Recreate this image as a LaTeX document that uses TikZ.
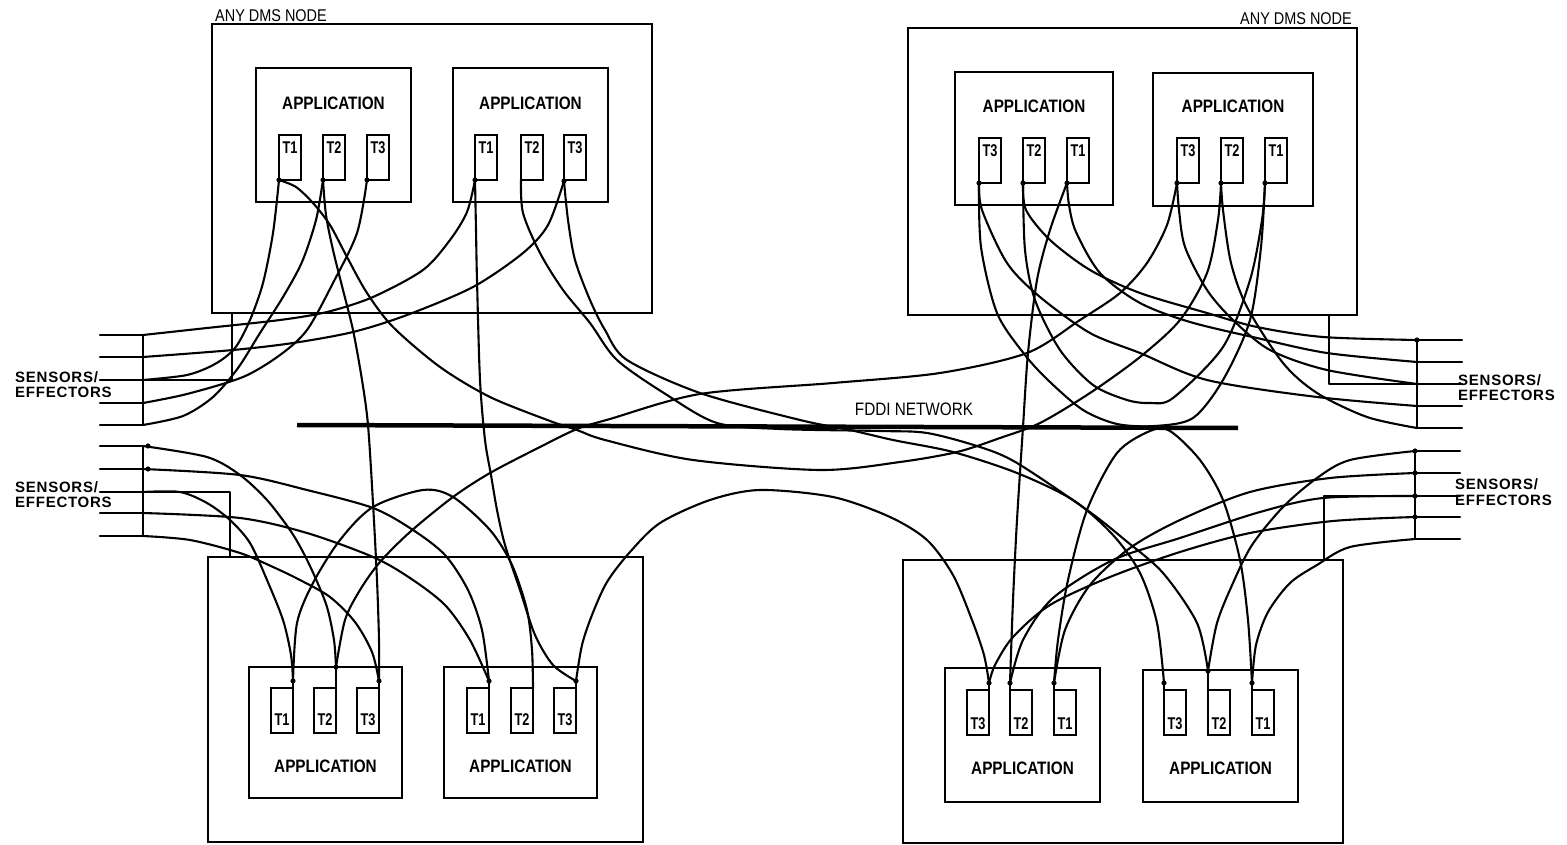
\documentclass[tikz,border=0pt]{standalone}
\usepackage{fontspec}
\setmainfont{Liberation Sans}
\newfontfamily\condfont{Liberation Sans}[FakeStretch=0.85]
\newfontfamily\tcondfont{Liberation Sans}[FakeStretch=0.75]
\newfontfamily\sensfont{Liberation Sans}[LetterSpace=5]
\newcommand\mytbox[4]{\draw[tline] (#1,#2) rectangle ++(22,45); \node[tlab] at ({#1+11},#4) {#3};}
\begin{document}
\begin{tikzpicture}[x=1pt,y=-1pt,
  box/.style={line width=2.4pt},
  tline/.style={line width=2.1pt},
  wire/.style={line width=2.1pt, line join=round, line cap=round},
  applab/.style={font=\condfont\bfseries\fontsize{18}{18}\selectfont, inner sep=0pt},
  tlab/.style={font=\tcondfont\bfseries\fontsize{17}{17}\selectfont, inner sep=0pt},
  nodelab/.style={font=\condfont\fontsize{17}{17}\selectfont, inner sep=0pt},
  senslab/.style={font=\sensfont\bfseries\fontsize{15}{15}\selectfont, inner sep=0pt, anchor=base west}]
\useasboundingbox (0,0) rectangle (1567,845);
\fill[white] (0,0) rectangle (1567,845);

% ---------- outer node boxes ----------
\draw[box] (212,24) rectangle (652,313);
\draw[box] (908,28) rectangle (1357,315);
\draw[box] (208,557) rectangle (643,842);
\draw[box] (903,560) rectangle (1343,843);
\node[nodelab, anchor=base west] (lblTL) at (215,22) {ANY DMS NODE};
\node[nodelab, anchor=base east] (lblTR) at (1352,25) {ANY DMS NODE};

% ---------- application boxes ----------
\draw[box] (256,68) rectangle (411,202);
\draw[box] (453,68) rectangle (608,202);
\draw[box] (955,72) rectangle (1113,205);
\draw[box] (1153,73) rectangle (1313,206);
\draw[box] (249,667) rectangle (402,798);
\draw[box] (444,667) rectangle (597,798);
\draw[box] (945,668) rectangle (1100,802);
\draw[box] (1143,670) rectangle (1298,802);
\node[applab] (atl1) at (333.5,103) {APPLICATION};
\node[applab] (atl2) at (530.5,103) {APPLICATION};
\node[applab] (atr1) at (1034,106) {APPLICATION};
\node[applab] (atr2) at (1233,106) {APPLICATION};
\node[applab] (abl1) at (325.5,766) {APPLICATION};
\node[applab] (abl2) at (520.5,766) {APPLICATION};
\node[applab] (abr1) at (1022.5,768) {APPLICATION};
\node[applab] (abr2) at (1220.5,768) {APPLICATION};

% ---------- task boxes ----------
\mytbox{279}{135}{T1}{148} \mytbox{323}{135}{T2}{148} \mytbox{367}{135}{T3}{148}
\mytbox{475}{135}{T1}{148} \mytbox{521}{135}{T2}{148} \mytbox{564}{135}{T3}{148}
\mytbox{979}{138}{T3}{151} \mytbox{1023}{138}{T2}{151} \mytbox{1067}{138}{T1}{151}
\mytbox{1177}{138}{T3}{151} \mytbox{1221}{138}{T2}{151} \mytbox{1265}{138}{T1}{151}
\mytbox{271}{688}{T1}{720} \mytbox{314}{688}{T2}{720} \mytbox{357}{688}{T3}{720}
\mytbox{467}{688}{T1}{720} \mytbox{511}{688}{T2}{720} \mytbox{554}{688}{T3}{720}
\mytbox{967}{690}{T3}{724} \mytbox{1010}{690}{T2}{724} \mytbox{1054}{690}{T1}{724}
\mytbox{1164}{690}{T3}{724} \mytbox{1208}{690}{T2}{724} \mytbox{1252}{690}{T1}{724}

% ---------- terminals ----------
\coordinate (tl1a) at (279,180); \coordinate (tl1b) at (323,180); \coordinate (tl1c) at (367,180);
\coordinate (tl2a) at (475,180); \coordinate (tl2b) at (521,180); \coordinate (tl2c) at (564,181);
\coordinate (tr1c) at (979,183); \coordinate (tr1b) at (1023,183); \coordinate (tr1a) at (1067,183);
\coordinate (tr2c) at (1177,183); \coordinate (tr2b) at (1221,183); \coordinate (tr2a) at (1265,183);
\coordinate (bl1a) at (293,681); \coordinate (bl1b) at (336,667); \coordinate (bl1c) at (379,681);
\coordinate (bl2a) at (489,681); \coordinate (bl2b) at (533,688); \coordinate (bl2c) at (576,681);
\coordinate (br1c) at (989,683); \coordinate (br1b) at (1010,683); \coordinate (br1a) at (1054,683);
\coordinate (br2c) at (1164,683); \coordinate (br2b) at (1208,671); \coordinate (br2a) at (1252,683);
% pins into task boxes
\draw[wire] (bl1a) -- (293,688); \draw[wire] (bl1b) -- (336,688); \draw[wire] (bl1c) -- (379,688);
\draw[wire] (bl2a) -- (489,688); \draw[wire] (bl2c) -- (576,688);
\draw[wire] (br1c) -- (989,690); \draw[wire] (br1b) -- (1010,690); \draw[wire] (br1a) -- (1054,690);
\draw[wire] (br2c) -- (1164,690); \draw[wire] (br2b) -- (1208,690); \draw[wire] (br2a) -- (1252,690);

% ---------- sensors / effectors ----------
\coordinate (lt1) at (143,335); \coordinate (lt2) at (143,357); \coordinate (lt3) at (143,380);
\coordinate (lt4) at (143,403); \coordinate (lt5) at (143,425);
\coordinate (lb1) at (143,446); \coordinate (lb2) at (143,469); \coordinate (lb3) at (143,492);
\coordinate (lb4) at (143,513); \coordinate (lb5) at (143,536);
\coordinate (rt1) at (1417,340); \coordinate (rt2) at (1417,362); \coordinate (rt3) at (1417,384);
\coordinate (rt4) at (1417,406); \coordinate (rt5) at (1417,428);
\coordinate (rb1) at (1415,451); \coordinate (rb2) at (1415,473); \coordinate (rb3) at (1415,496);
\coordinate (rb4) at (1415,517); \coordinate (rb5) at (1415,539);

\draw[wire] (lt1) -- (lt5);
\draw[wire] (lb1) -- (lb5);
\draw[wire] (rt1) -- (rt5);
\draw[wire] (rb1) -- (rb5);
\foreach \c/\y in {lt1/335,lt2/357,lt3/380,lt4/403,lt5/425,lb1/446,lb2/469,lb3/492,lb4/513,lb5/536}
  \draw[wire] (100,\y) -- (\c);
\foreach \c/\y in {rt1/340,rt2/362,rt3/384,rt4/406,rt5/428}
  \draw[wire] (\c) -- (1462,\y);
\foreach \c/\y in {rb1/451,rb2/473,rb3/496,rb4/517,rb5/539}
  \draw[wire] (\c) -- (1460,\y);
% links from node boxes to sensor buses
\draw[wire] (lt3) -- (232,380) -- (232,313);
\draw[wire] (lb3) -- (230,492) -- (230,557);
\draw[wire] (rt3) -- (1329,384) -- (1329,315);
\draw[wire] (rb3) -- (1324,496) -- (1324,560);

\node[senslab] (s1a) at (15,382) {SENSORS/};
\node[senslab] (s1b) at (15,397) {EFFECTORS};
\node[senslab] (s2a) at (15,492) {SENSORS/};
\node[senslab] (s2b) at (15,507) {EFFECTORS};
\node[senslab] (s3a) at (1458,385) {SENSORS/};
\node[senslab] (s3b) at (1458,400) {EFFECTORS};
\node[senslab] (s4a) at (1455,489) {SENSORS/};
\node[senslab] (s4b) at (1455,505) {EFFECTORS};

% ---------- FDDI network ----------
\coordinate (fddiL) at (297,425); \coordinate (fddiR) at (1238,428);
\draw[line width=4.5pt] (fddiL) -- (fddiR);
\node[font=\condfont\fontsize{18}{18}\selectfont, inner sep=0pt] (fddi) at (914,409) {FDDI NETWORK};

% ---------- wires: top-left node ----------
\draw[wire] plot[smooth] coordinates {(lt1) (207,328) (280,320) (327,312) (373,297) (423,270) (450,240) (467,212) (tl2a)};
\draw[wire] plot[smooth] coordinates {(lt2) (233,350) (293,343) (353,332) (407,315) (473,287) (523,253) (548,225) (tl2c)};
\draw[wire] plot[smooth] coordinates {(lt3) (187,375) (215,364) (235,348) (250,320) (263,283) (273,233) (tl1a)};
\draw[wire] plot[smooth] coordinates {(lt4) (187,394) (243,377) (280,355) (307,330) (333,283) (357,233) (tl1c)};
\draw[wire] plot[smooth] coordinates {(lt5) (183,416) (213,397) (238,368) (260,333) (283,297) (302,262) (316,220) (tl1b)};
\draw[wire] plot[smooth] coordinates {(tl1a) (296,187) (313,203) (330,225) (347,257) (367,293) (393,327) (440,367) (490,397) (550,421) (577,430) (605,440) (693,460) (820,470) (900,462) (957,452) (1000,438) (1040,423) (1090,393) (1140,357) (1180,320) (1207,273) (1218,220) (tr2b)};
\draw[wire] plot[smooth] coordinates {(tl1b) (326,215) (333,250) (343,290) (353,330) (362,380) (368,425) (373,503) (377,580) (379,640) (bl1c)};
\draw[wire] plot[smooth] coordinates {(tl2a) (476,230) (477,280) (480,380) (485,440) (491,475) (497,510) (505,545) (520,590) (535,635) (553,665) (bl2c)};
\draw[wire] plot[smooth] coordinates {(tl2b) (523,213) (540,253) (563,290) (590,323) (617,360) (667,395) (717,423) (780,429) (880,431) (927,433) (980,447) (1017,463) (1087,510) (1125,540) (1163,573) (1197,623) (br2b)};
\draw[wire] plot[smooth] coordinates {(tl2c) (568,220) (575,260) (590,300) (605,330) (627,360) (700,393) (800,420) (850,430) (893,440) (953,452) (1017,473) (1073,500) (1113,535) (1140,573) (1157,623) (br2c)};

% ---------- wires: bottom-left node ----------
\draw[wire] plot[smooth] coordinates {(bl1b) (345,620) (360,590) (380,562) (410,532) (453,497) (490,473) (540,447) (577,429) (610,419) (700,394) (833,383) (940,373) (1027,353) (1080,320) (1120,293) (1147,263) (1167,225) (tr2c)};
\draw[wire] plot[smooth] coordinates {(bl1a) (297,623) (313,583) (340,540) (373,507) (423,490) (453,497) (490,530) (512,565) (527,610) (532,650) (bl2b)};
\draw[wire] plot[smooth] coordinates {(lb1) (207,457) (240,475) (267,500) (290,530) (303,552) (315,577) (327,607) (334,640) (bl1b)};
\draw[wire] plot[smooth] coordinates {(lb2) (240,475) (307,490) (373,508) (413,530) (445,555) (468,590) (482,630) (bl2a)};
\draw[wire] plot[smooth] coordinates {(lb3) (180,492) (207,503) (230,520) (250,543) (267,580) (283,620) (291,655) (bl1a)};
\draw[wire] plot[smooth] coordinates {(lb4) (240,518) (307,533) (373,557) (410,578) (445,605) (470,640) (bl2a)};
\draw[wire] plot[smooth] coordinates {(lb5) (190,540) (240,553) (273,567) (300,580) (330,597) (355,622) (372,652) (bl1c)};
\draw[wire] plot[smooth] coordinates {(bl2c) (582,645) (592,615) (607,582) (630,552) (660,523) (710,500) (760,490) (833,497) (890,517) (927,540) (953,575) (972,620) (984,655) (br1c)};

% ---------- wires: bottom-right node ----------
\draw[wire] plot[smooth] coordinates {(br1a) (1058,640) (1068,580) (1087,510) (1117,453) (1150,431) (1170,431) (1200,460) (1223,500) (1240,560) (1248,620) (br2a)};
\draw[wire] plot[smooth] coordinates {(rb1) (1350,460) (1317,478) (1283,507) (1252,545) (1233,583) (1217,623) (br2b)};
\draw[wire] plot[smooth] coordinates {(rb2) (1330,478) (1250,492) (1180,520) (1130,548) (1090,585) (1065,630) (br1a)};
\draw[wire] plot[smooth] coordinates {(rb3) (1323,498) (1260,512) (1180,538) (1113,560) (1053,598) (1023,640) (br1b)};
\draw[wire] plot[smooth] coordinates {(rb4) (1333,521) (1250,533) (1180,552) (1110,577) (1050,605) (1013,637) (995,665) (br1c)};
\draw[wire] plot[smooth] coordinates {(rb5) (1350,547) (1317,565) (1290,583) (1268,612) (1256,645) (br2a)};

% ---------- wires: top-right node ----------
\draw[wire] plot[smooth] coordinates {(tr1a) (1050,230) (1037,280) (1028,353) (1023,427) (1017,520) (1013,600) (br1b)};
\draw[wire] plot[smooth] coordinates {(tr1b) (1026,210) (1050,240) (1090,270) (1140,293) (1207,313) (1257,327) (1323,337) (rt1)};
\draw[wire] plot[smooth] coordinates {(tr1a) (1069,205) (1076,232) (1100,273) (1140,303) (1190,322) (1257,338) (1327,353) (rt2)};
\draw[wire] plot[smooth] coordinates {(tr2c) (1179,210) (1185,247) (1207,290) (1233,320) (1270,350) (1327,370) (rt3)};
\draw[wire] plot[smooth] coordinates {(tr1c) (982,210) (1007,263) (1040,297) (1090,333) (1140,353) (1207,380) (1317,397) (rt4)};
\draw[wire] plot[smooth] coordinates {(tr2b) (1223,210) (1231,263) (1247,307) (1283,363) (1317,393) (1367,417) (rt5)};
\draw[wire] plot[smooth] coordinates {(tr1c) (981,247) (997,313) (1025,355) (1050,382) (1083,410) (1117,424) (1155,426) (1193,418) (1223,380) (1250,320) (1261,247) (tr2a)};
\draw[wire] plot[smooth] coordinates {(tr1b) (1025,250) (1035,300) (1060,350) (1093,385) (1127,400) (1150,403) (1173,398) (1223,347) (1250,280) (1262,220) (tr2a)};

% ---------- junction dots ----------
\foreach \p in {tl1a,tl1b,tl1c,tl2a,tl2c,tr1c,tr1b,tr1a,tr2c,tr2b,tr2a,bl1a,bl1b,bl1c,bl2a,bl2c,br1c,br1b,br1a,br2c,br2b,br2a,rt1,rb1,rb2,rb3,rb4}
  \fill (\p) circle (2.6pt);
\fill (148,446) circle (2.6pt);
\fill (148,469) circle (2.6pt);
\end{tikzpicture}
\end{document}
